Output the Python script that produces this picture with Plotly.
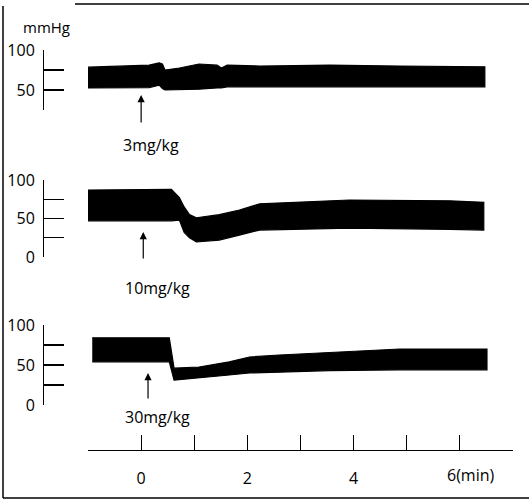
import plotly.graph_objects as go

W, H = 529, 500

# ---- data (time in min, pressure in mmHg) ----
# Panel 1: 3 mg/kg
t1 = [-1.0, 0.15, 0.34, 0.40, 0.45, 0.72, 1.09, 1.43, 1.51, 1.62, 2.23, 3.55, 4.87, 6.47]
sys1 = [78.5, 81, 84, 82.5, 75, 77.5, 82.5, 81, 77.5, 81, 80, 81, 80, 79]
dia1 = [52.5, 53, 56, 52, 50, 50, 51, 52.5, 52.5, 54, 54, 54, 54, 54]

# Panel 2: 10 mg/kg
t2 = [-1.0, 0.3, 0.57, 0.72, 0.81, 0.91, 1.04, 1.47, 1.85, 2.23, 2.98, 3.92, 5.81, 6.45]
sys2 = [87, 88, 88, 77, 65, 55, 51, 55, 61, 69, 71, 74, 73, 71]
dia2 = [47, 47, 47, 48, 32, 25, 19.5, 22, 28.5, 35, 36, 37.5, 36, 35]

# Panel 3: 30 mg/kg
t3 = [-0.92, 0.3, 0.53, 0.62, 1.09, 1.66, 2.04, 2.60, 3.55, 4.87, 6.51]
sys3 = [84, 84, 84, 46, 47.5, 54, 60, 62.5, 66, 70, 70]
dia3 = [54, 54, 54, 31, 34, 37.5, 40, 41, 43, 44, 44]

x_ticks = [-1, 0, 1, 2, 3, 4, 5, 6, 7]
x_ticktext = ["", "0", "", "2", "", "4", "", "", ""]
doses = ["3mg/kg", "10mg/kg", "30mg/kg"]

FONT = "Open Sans"


def px_x(p):
    return p / W


def px_y(p):
    return 1 - p / H


fig = go.Figure()
for t, s, d, ya in [(t1, sys1, dia1, "y"), (t2, sys2, dia2, "y2"), (t3, sys3, dia3, "y3")]:
    fig.add_trace(go.Scatter(
        x=t + t[::-1], y=s + d[::-1], fill="toself", fillcolor="black",
        mode="lines", line=dict(color="black", width=1.2),
        xaxis="x", yaxis=ya, hoverinfo="skip"))

yax_common = dict(anchor="free", position=px_x(43), showline=True, linecolor="black",
                  linewidth=1.2, ticks="inside", ticklen=20, tickwidth=1.2,
                  tickcolor="black", showgrid=False, zeroline=False,
                  ticklabelstandoff=5, automargin=False,
                  tickfont=dict(family=FONT, size=16, color="black"))

fig.update_layout(
    width=W, height=H, margin=dict(l=0, r=0, t=0, b=0, pad=0, autoexpand=False),
    paper_bgcolor="white", plot_bgcolor="white", showlegend=False,
    xaxis=dict(domain=[px_x(88), px_x(513)], range=[-1, 7], anchor="free",
               position=px_y(450), showline=True, linecolor="black", linewidth=1.2,
               ticks="inside", ticklen=15, tickwidth=1.2, tickcolor="black",
               tickvals=x_ticks, ticktext=x_ticktext, showgrid=False, zeroline=False,
               ticklabelstandoff=14, automargin=False,
               tickfont=dict(family=FONT, size=16, color="black")),
    yaxis=dict(domain=[px_y(110), px_y(50)], range=[25, 100],
               tickvals=[25, 50, 75, 100], ticktext=["", "50", "", "100"], **yax_common),
    yaxis2=dict(domain=[px_y(257), px_y(180)], range=[0, 100],
                tickvals=[0, 25, 50, 75, 100], ticktext=["0", "", "50", "", "100"], **yax_common),
    yaxis3=dict(domain=[px_y(405), px_y(325)], range=[0, 100],
                tickvals=[0, 25, 50, 75, 100], ticktext=["0", "", "50", "", "100"], **yax_common),
)

annos = []
annos.append(dict(text="mmHg", x=px_x(46), y=px_y(27), xref="paper", yref="paper",
                  xanchor="center", yanchor="middle",
                  showarrow=False, font=dict(family=FONT, size=15, color="black")))
for txt, cx, cy in zip(doses, [151, 157.5, 157.5], [145, 288, 417]):
    annos.append(dict(text=txt, x=px_x(cx), y=px_y(cy), xref="paper", yref="paper",
                      xanchor="center", yanchor="middle",
                      showarrow=False, font=dict(family=FONT, size=16, color="black")))
annos.append(dict(text="6(min)", x=6, xref="x", y=px_y(475), yref="paper",
                  xanchor="left", yanchor="middle", xshift=-15, showarrow=False,
                  font=dict(family=FONT, size=16, color="black")))
for ax_x, head, tail in [(0.0, 95, 124), (0.04, 232, 260), (0.13, 373, 400)]:
    annos.append(dict(text="", x=ax_x, xref="x", y=px_y(head), yref="paper",
                      ax=0, ay=tail - head, axref="pixel", ayref="pixel",
                      showarrow=True, arrowhead=2, arrowsize=1.2, arrowwidth=1.2,
                      arrowcolor="black"))
fig.update_layout(annotations=annos)

shapes = [
    dict(type="line", xref="paper", yref="paper", x0=px_x(3), x1=px_x(3), y0=px_y(6), y1=px_y(498),
         line=dict(color="black", width=1.5)),
    dict(type="line", xref="paper", yref="paper", x0=px_x(75), x1=1, y0=px_y(4), y1=px_y(4),
         line=dict(color="black", width=1.5)),
    dict(type="line", xref="paper", yref="paper", x0=px_x(3), x1=1, y0=px_y(498), y1=px_y(498),
         line=dict(color="black", width=1.5)),
]
fig.update_layout(shapes=shapes)

fig.write_html("out.html", config={"displayModeBar": False, "staticPlot": True},
               post_script="document.body.style.margin='0';document.body.style.overflow='hidden';")
